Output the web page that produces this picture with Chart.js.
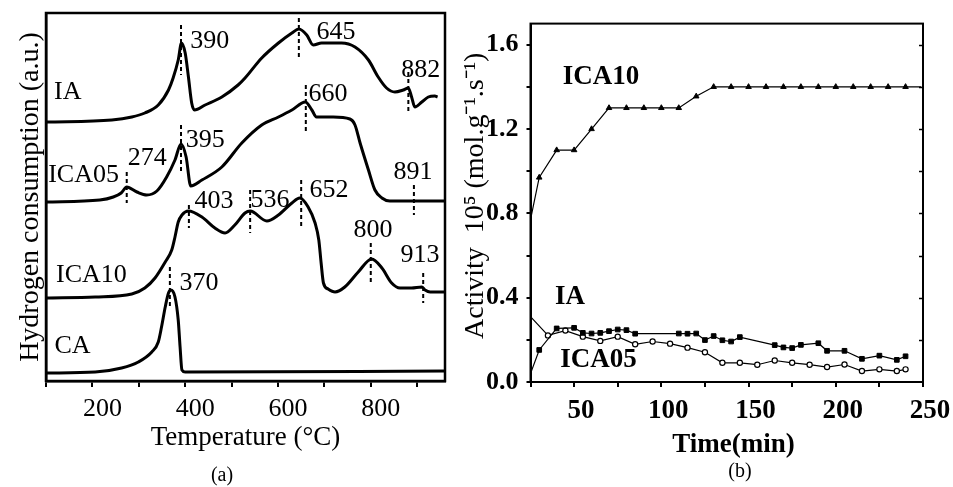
<!DOCTYPE html>
<html><head><meta charset="utf-8">
<script src="https://cdn.jsdelivr.net/npm/chart.js@4/dist/chart.umd.min.js"></script>
<style>
html,body{margin:0;padding:0;background:#fff;width:953px;height:487px;overflow:hidden}
#ca{position:absolute;left:0;top:0}
#cb{position:absolute;left:455px;top:0}
</style></head><body>
<canvas id="ca" width="455" height="487"></canvas>
<canvas id="cb" width="498" height="487"></canvas>
<script>
// ---------- Panel (a): H2-TPR profiles (temperature in °C, signal in a.u., offset-stacked) ----------
const iaT = [100, 242, 285, 313, 342, 364, 374, 385, 392, 400, 407, 414, 420, 443, 479, 514, 529, 565, 601, 630, 645, 662, 676, 694, 737, 766, 795, 816, 834, 852, 870, 881, 888, 895, 910, 924, 938, 944];
const iaH = [259, 261, 264, 268, 276, 291, 303, 321, 338, 328, 304, 278, 271, 276, 284, 296, 303, 323, 338, 348, 352, 346, 336, 338, 338, 334, 321, 304, 293, 289, 291, 293, 284, 274, 279, 284, 285, 284];

const ica05T = [100, 216, 245, 262, 274, 296, 317, 339, 360, 378, 391, 402, 412, 436, 479, 522, 565, 601, 630, 659, 673, 683, 719, 755, 766, 777, 795, 809, 824, 841, 960];
const ica05H = [179, 181, 184, 188, 194, 189, 186, 190, 204, 221, 237, 224, 195, 201, 214, 238, 256, 264, 271, 279, 271, 264, 264, 262, 256, 238, 211, 191, 183, 180, 180];

const ica10T = [100, 206, 285, 313, 335, 357, 371, 378, 385, 393, 407, 436, 464, 486, 507, 529, 540, 576, 601, 630, 647, 665, 680, 688, 693, 698, 708, 723, 744, 773, 802, 824, 845, 863, 888, 910, 917, 928, 960];
const ica10H = [83, 84, 87, 93, 103, 119, 131, 144, 159, 166, 170, 164, 153, 148, 156, 168, 170, 160, 166, 178, 183, 174, 158, 141, 118, 98, 92, 89, 94, 109, 122, 113, 98, 93, 93, 94, 91, 89, 89];

const caT = [100, 206, 263, 299, 328, 342, 349, 357, 364, 369, 378, 385, 389, 393, 400, 960];
const caH = [8, 9, 13, 19, 29, 39, 54, 74, 88, 91, 84, 61, 34, 11, 9, 10];

// dashed peak markers
const markT   = [391, 645, 881, 274, 391, 660, 893, 408, 540, 650, 800, 913, 367];
const markTop = [356, 363, 309, 209, 256, 296, 196, 176, 191, 201, 138, 108, 114];
const markBot = [306, 321, 268, 178, 208, 249, 166, 153, 148, 154, 96, 78, 73];

// annotations (text, anchor temperature, anchor height)
const annText = ["390", "645", "882", "660", "274", "395", "891", "403", "536", "652", "800", "913", "370", "IA", "ICA05", "ICA10", "CA"];
const annT    = [453, 725, 908, 708, 318, 443, 891, 462, 583, 710, 805, 906, 430, 147, 181, 198, 157];
const annH    = [340, 349, 311, 287, 223, 241, 209, 180, 181, 191, 151, 126, 98, 289, 206, 106, 35];

// ---------- Panel (b): activity vs time ----------
const tICA10 = [25, 30, 40, 50, 60, 70, 80, 90, 100, 110, 120, 130, 140, 150, 160, 170, 180, 190, 200, 210, 220, 230, 240, 249];
const vICA10 = [0.77, 0.97, 1.10, 1.10, 1.20, 1.30, 1.30, 1.30, 1.30, 1.30, 1.355, 1.40, 1.40, 1.40, 1.40, 1.40, 1.40, 1.40, 1.40, 1.40, 1.40, 1.40, 1.40, 1.40];

const tIA = [25, 30, 40, 50, 55, 60, 65, 70, 75, 80, 85, 110, 115, 120, 125, 130, 135, 140, 145, 165, 170, 175, 180, 190, 195, 205, 215, 225, 235, 240];
const vIA = [0.04, 0.152, 0.254, 0.257, 0.233, 0.230, 0.233, 0.241, 0.249, 0.246, 0.229, 0.230, 0.229, 0.230, 0.199, 0.218, 0.198, 0.192, 0.213, 0.175, 0.164, 0.161, 0.176, 0.184, 0.148, 0.148, 0.110, 0.125, 0.105, 0.122];

const tICA05 = [25, 35, 45, 55, 65, 75, 85, 95, 105, 115, 125, 135, 145, 155, 165, 175, 185, 195, 205, 215, 225, 235, 240];
const vICA05 = [0.31, 0.221, 0.244, 0.215, 0.195, 0.215, 0.179, 0.192, 0.182, 0.163, 0.141, 0.091, 0.091, 0.082, 0.102, 0.091, 0.082, 0.071, 0.083, 0.052, 0.060, 0.052, 0.060];

const bLabText = ["ICA10", "IA", "ICA05"];
const bLabT = [65.4, 47.6, 64];
const bLabV = [1.447, 0.404, 0.102];

// ---------- helpers ----------
const SERIF = "'Liberation Serif', 'Times New Roman', Times, serif";
Chart.defaults.font.family = SERIF;
Chart.defaults.color = '#000';
const pts = (xs, ys) => xs.map((x, i) => ({x: x, y: ys[i]}));

function overlay(id, labels, labFont, boxW, extra) {
  return {
    id: id,
    afterDraw(chart) {
      const ctx = chart.ctx, a = chart.chartArea, sx = chart.scales.x, sy = chart.scales.y;
      ctx.save();
      ctx.strokeStyle = '#000';
      ctx.lineWidth = boxW;
      ctx.strokeRect(a.left, a.top, a.right - a.left, a.bottom - a.top);
      ctx.fillStyle = '#000';
      ctx.font = labFont;
      ctx.textAlign = 'center';
      ctx.textBaseline = 'middle';
      labels.forEach(l => ctx.fillText(l.text, sx.getPixelForValue(l.x), sy.getPixelForValue(l.y)));
      if (extra) extra(chart, ctx);
      ctx.restore();
    }
  };
}

// ---------- Chart (a) ----------
const curveStyle = {borderColor: '#000', borderWidth: 3, pointRadius: 0, cubicInterpolationMode: 'monotone', fill: false, borderJoinStyle: 'round'};
const aSets = [
  Object.assign({label: 'IA', data: pts(iaT, iaH)}, curveStyle),
  Object.assign({label: 'ICA05', data: pts(ica05T, ica05H)}, curveStyle),
  Object.assign({label: 'ICA10', data: pts(ica10T, ica10H)}, curveStyle),
  Object.assign({label: 'CA', data: pts(caT, caH)}, curveStyle)
];
markT.forEach((t, i) => aSets.push({
  label: 'peak', data: [{x: t, y: markTop[i]}, {x: t, y: markBot[i]}],
  borderColor: '#000', borderWidth: 2, borderDash: [4, 3], pointRadius: 0, tension: 0, fill: false
}));
const aLabels = annText.map((s, i) => ({text: s, x: annT[i], y: annH[i]}));

new Chart(document.getElementById('ca'), {
  type: 'line',
  data: {datasets: aSets},
  options: {
    responsive: false, animation: false,
    layout: {padding: {left: 0, top: 13, right: 10, bottom: 0}},
    plugins: {legend: {display: false}, tooltip: {enabled: false}},
    scales: {
      x: {
        type: 'linear', min: 100, max: 960,
        afterFit: s => { s.height = 106; },
        ticks: {stepSize: 100, autoSkip: false, includeBounds: false, maxRotation: 0, padding: 7, labelOffset: 10,
                font: {size: 26}, color: '#000',
                callback: v => (v % 200 === 0 && v >= 200 && v <= 800) ? String(v) : ''},
        grid: {display: true, drawOnChartArea: false, drawTicks: true, tickLength: 6, color: '#000', lineWidth: 2},
        border: {display: true, color: '#000', width: 2.5},
        title: {display: true, text: 'Temperature (°C)', font: {size: 27}, color: '#000', padding: {top: 0, bottom: 33}}
      },
      y: {
        type: 'linear', min: 0, max: 368,
        afterFit: s => { s.width = 46; },
        ticks: {display: false},
        grid: {display: false},
        border: {display: true, color: '#000', width: 2.5},
        title: {display: true, text: 'Hydrogen consumption (a.u.)', font: {size: 28}, color: '#000', padding: {top: 14, bottom: 0}}
      }
    }
  },
  plugins: [overlay('ovA', aLabels, '26px ' + SERIF, 2.5, (chart, ctx) => {
    ctx.font = '20px ' + SERIF;
    ctx.fillText('(a)', 222, 476);
  })]
});

// ---------- Chart (b) ----------
const radii = (n, skipFirst, skipLast, r) => Array.from({length: n}, (_, i) => ((skipFirst && i === 0) || (skipLast && i === n - 1)) ? 0 : r);
const bLabels = bLabText.map((s, i) => ({text: s, x: bLabT[i], y: bLabV[i]}));

new Chart(document.getElementById('cb'), {
  type: 'line',
  data: {datasets: [
    {label: 'ICA10', data: pts(tICA10, vICA10), borderColor: '#000', borderWidth: 1.2, tension: 0,
     pointStyle: 'triangle', pointRadius: radii(tICA10.length, true, true, 3.2), pointBackgroundColor: '#000', pointBorderColor: '#000', pointBorderWidth: 1},
    {label: 'IA', data: pts(tIA, vIA), borderColor: '#000', borderWidth: 1.2, tension: 0,
     pointStyle: 'rect', pointRadius: radii(tIA.length, true, false, 3.3), pointBackgroundColor: '#000', pointBorderColor: '#000', pointBorderWidth: 1},
    {label: 'ICA05', data: pts(tICA05, vICA05), borderColor: '#000', borderWidth: 1.2, tension: 0,
     pointStyle: 'circle', pointRadius: radii(tICA05.length, true, false, 2.6), pointBackgroundColor: '#fff', pointBorderColor: '#000', pointBorderWidth: 1.2}
  ]},
  options: {
    responsive: false, animation: false,
    layout: {padding: {left: 0, top: 15, right: 30, bottom: 0}},
    plugins: {legend: {display: false}, tooltip: {enabled: false}},
    scales: {
      x: {
        type: 'linear', min: 25, max: 250,
        afterFit: s => { s.height = 105; },
        ticks: {stepSize: 25, autoSkip: false, maxRotation: 0, padding: 8, labelOffset: 7,
                font: {size: 27, weight: 'bold'}, color: '#000',
                callback: v => (v % 50 === 0) ? String(v) : ''},
        grid: {display: true, drawOnChartArea: false, drawTicks: true, tickLength: 5, color: '#000', lineWidth: 2},
        border: {display: true, color: '#000', width: 2},
        title: {display: true, text: '  Time(min)', font: {size: 27, weight: 'bold'}, color: '#000', padding: {top: 0, bottom: 26}}
      },
      y: {
        type: 'linear', min: 0, max: 1.7,
        afterFit: s => { s.width = 75.5; },
        ticks: {stepSize: 0.2, autoSkip: false, includeBounds: false, padding: 8, font: {size: 26, weight: 'bold'}, color: '#000',
                callback: v => (Math.abs(v / 0.4 - Math.round(v / 0.4)) < 1e-6) ? v.toFixed(1) : ''},
        grid: {display: true, drawOnChartArea: false, drawTicks: true, tickLength: 4, color: '#000', lineWidth: 2},
        border: {display: true, color: '#000', width: 2},
        title: {display: true, text: '  Activity  10\u2075 (mol.g\u207B\u00B9.s\u207B\u00B9)', font: {size: 28}, color: '#000', padding: {top: 4, bottom: 0}}
      }
    }
  },
  plugins: [overlay('ovB', bLabels, 'bold 27px ' + SERIF, 2, (chart, ctx) => {
    const a = chart.chartArea, sy = chart.scales.y;
    ctx.lineWidth = 1.5;
    for (let v = 0.2; v < 1.65; v += 0.2) {
      const yy = Math.round(sy.getPixelForValue(v)) + 0.5;
      ctx.beginPath(); ctx.moveTo(a.right - 4, yy); ctx.lineTo(a.right, yy); ctx.stroke();
    }
    ctx.font = '20px ' + SERIF;
    ctx.fillText('(b)', 740 - 455, 472);
  })]
});
</script>
</body></html>
